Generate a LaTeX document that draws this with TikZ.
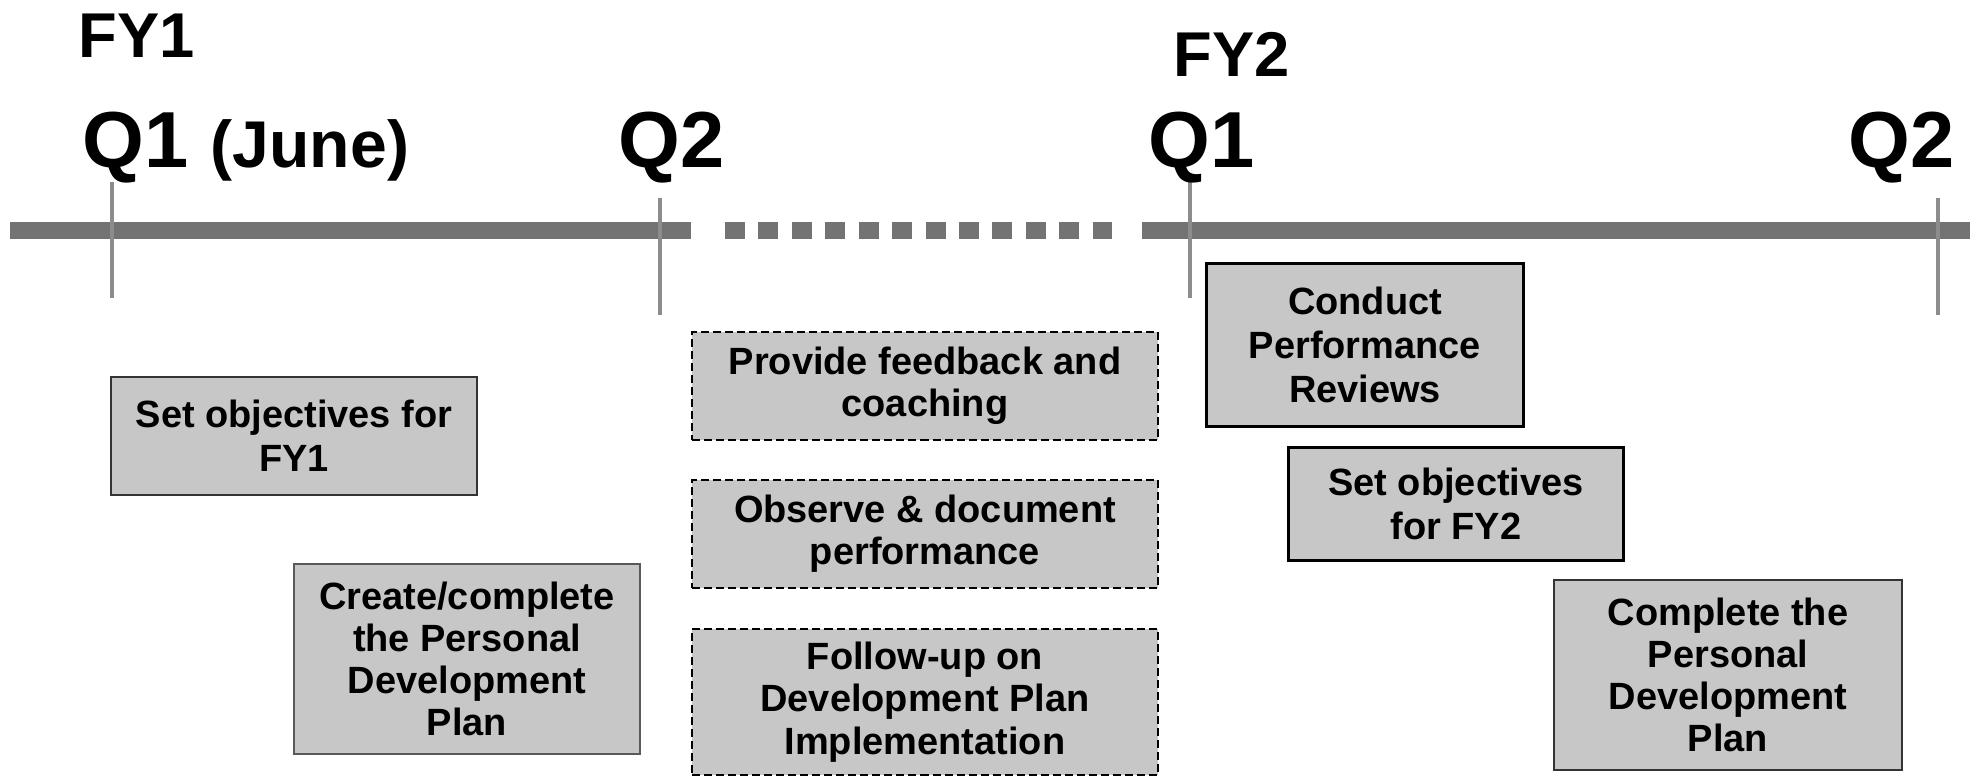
\documentclass[tikz,border=0pt]{standalone}
\usepackage{fontspec}
\setmainfont{Liberation Sans}
\begin{document}
\begin{tikzpicture}[x=0.01cm, y=-0.01cm,
  task/.style={draw=black!80, line width=0.025cm, fill=black!22, rectangle, align=center, inner sep=0pt, font=\fontsize{10.8}{12}\selectfont\bfseries},
  widetask/.style={task, font=\fontsize{10.8}{12.6}\selectfont\bfseries},
  ongoing/.style={task, draw=black, line width=0.02cm, dash pattern=on 0.08cm off 0.04cm},
  quarter/.style={anchor=base west, inner sep=0pt, font=\fontsize{22.6}{24}\selectfont\bfseries},
  year/.style={anchor=base west, inner sep=0pt, font=\fontsize{18}{20}\selectfont\bfseries},
  axis/.style={draw=black!55, line width=0.17cm},
  tick/.style={draw=black!45, line width=0.045cm}]
\useasboundingbox (0,0) rectangle (1978,777);
% timeline
\coordinate (a0) at (10,231);
\coordinate (a1) at (691,231);
\coordinate (d0) at (725,231);
\coordinate (d1) at (1112,231);
\coordinate (a2) at (1142,231);
\coordinate (a3) at (1970,231);
\draw[axis] (a0) -- (a1);
\draw[axis, dash pattern=on 0.2cm off 0.134cm] (d0) -- (d1);
\draw[axis] (a2) -- (a3);
% quarter ticks
\coordinate (t1a) at (112,182); \coordinate (t1b) at (112,298);
\coordinate (t2a) at (660,198); \coordinate (t2b) at (660,315);
\coordinate (t3a) at (1190,182); \coordinate (t3b) at (1190,298);
\coordinate (t4a) at (1938,198); \coordinate (t4b) at (1938,315);
\draw[tick] (t1a) -- (t1b);
\draw[tick] (t2a) -- (t2b);
\draw[tick] (t3a) -- (t3b);
\draw[tick] (t4a) -- (t4b);
% labels
\node[year] (fy1) at (78,58) {FY1};
\node[year] (fy2) at (1173,77) {FY2};
\node[quarter] (q1a) at (82,168) {Q1 {\fontsize{18.8}{20}\selectfont(June)}};
\node[quarter] (q2a) at (618,168) {Q2};
\node[quarter] (q1b) at (1148,168) {Q1};
\node[quarter] (q2b) at (1848,168) {Q2};
% FY1 tasks
\node[widetask, minimum width=3.66cm, minimum height=1.18cm] (obj1) at (294,436) {Set objectives for\\FY1};
\node[task, draw=black!65, line width=0.02cm, minimum width=3.46cm, minimum height=1.9cm] (pdp1) at (467,659) {Create/complete\\the Personal\\Development\\Plan};
% ongoing tasks
\node[ongoing, minimum width=4.65cm, minimum height=1.07cm] (coach) at (925,386) {Provide feedback and\\coaching};
\node[ongoing, minimum width=4.65cm, minimum height=1.07cm] (observe) at (925,534) {Observe \& document\\performance};
\node[ongoing, minimum width=4.65cm, minimum height=1.46cm] (follow) at (925,702) {Follow-up on\\Development Plan\\Implementation};
% FY2 tasks
\node[widetask, draw=black, line width=0.03cm, minimum width=3.16cm, minimum height=1.62cm] (review) at (1365,345) {Conduct\\Performance\\Reviews};
\node[widetask, draw=black, minimum width=3.35cm, minimum height=1.13cm] (obj2) at (1456,504) {Set objectives\\for FY2};
\node[task, minimum width=3.48cm, minimum height=1.9cm] (pdp2) at (1728,675) {Complete the\\Personal\\Development\\Plan};
\end{tikzpicture}
\end{document}
